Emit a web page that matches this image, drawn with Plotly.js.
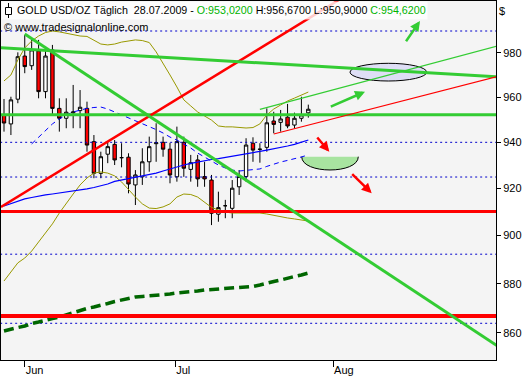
<!DOCTYPE html>
<html><head><meta charset="utf-8">
<script src="https://cdn.plot.ly/plotly-3.0.1.min.js"></script>
<style>html,body{margin:0;padding:0;background:#fff}#chart{width:527px;height:380px}</style>
</head><body><div id="chart"></div>
<script>
// ---- data ----
const dates = ['2009-05-27','2009-05-28','2009-05-29',
 '2009-06-01','2009-06-02','2009-06-03','2009-06-04','2009-06-05',
 '2009-06-08','2009-06-09','2009-06-10','2009-06-11','2009-06-12',
 '2009-06-15','2009-06-16','2009-06-17','2009-06-18','2009-06-19',
 '2009-06-22','2009-06-23','2009-06-24','2009-06-25','2009-06-26',
 '2009-06-29','2009-06-30',
 '2009-07-01','2009-07-02','2009-07-03',
 '2009-07-06','2009-07-07','2009-07-08','2009-07-09','2009-07-10',
 '2009-07-13','2009-07-14','2009-07-15','2009-07-16','2009-07-17',
 '2009-07-20','2009-07-21','2009-07-22','2009-07-23','2009-07-24',
 '2009-07-27','2009-07-28'];
const open  = [952.1,948.1,959.1,978.6,974.2,980.9,962.5,981.4,955.0,950.6,953.0,954.0,955.0,940.3,926.5,934.8,939.1,933.3,933.5,921.5,925.0,931.5,939.4,940.0,937.0,925.0,940.0,928.2,932.3,925.1,923.6,909.0,912.6,911.5,920.7,925.1,939.6,936.9,937.8,949.4,948.8,951.1,947.6,950.6,953.02];
const high  = [959.2,960.2,980.3,988.3,986.0,986.0,981.4,983.7,959.5,959.5,965.5,963.2,958.0,943.2,935.9,940.3,941.0,939.6,935.2,927.9,937.4,942.5,948.4,942.5,939.8,946.9,942.5,934.5,934.5,931.5,925.8,918.6,915.1,923.6,927.9,941.8,942.2,939.6,955.0,953.5,954.3,957.0,953.1,960.2,956.67];
const low   = [944.7,943.2,957.3,970.8,972.3,959.5,959.5,952.1,944.7,946.2,946.2,946.2,935.9,924.4,924.4,930.9,930.1,929.1,917.9,912.9,921.5,927.2,931.5,933.7,922.2,922.9,925.0,922.9,920.7,920.7,904.4,905.8,907.3,907.3,917.2,922.9,931.5,931.1,935.9,944.0,944.7,946.2,946.2,949.1,950.90];
const close = [948.5,958.8,978.3,973.8,981.4,962.5,978.6,955.0,950.6,953.3,953.4,955.5,938.8,926.5,933.7,938.1,932.3,933.3,921.9,925.8,931.5,938.1,939.8,937.0,925.8,940.3,928.7,931.1,924.1,924.1,909.4,911.8,912.6,920.1,925.1,938.8,936.6,937.0,948.6,947.9,950.3,947.2,950.6,952.1,954.62];

const bbUpper = [967.3,970.0,976.8,982.3,985.5,987.8,989.4,990.1,989.7,989.1,988.3,987.8,987.6,986.0,984.1,983.7,984.1,985.0,985.5,986.0,985.7,984.8,980.5,975.4,970.0,964.6,958.8,956.1,953.4,951.6,949.8,947.2,946.8,946.8,946.5,946.3,946.5,948.1,952.1,954.7,956.5,958.3,959.6,961.0,962.3];
const bbLower = [881.1,884.8,888.6,890.6,893.5,897.3,901.1,904.9,909.5,913.8,917.6,921.5,924.5,926.6,927.1,926.6,925.4,922.8,919.3,916.3,913.4,911.6,911.4,912.1,913.4,916.3,917.6,917.4,916.3,914.2,911.9,910.8,909.9,909.5,909.5,909.5,909.5,909.5,909.1,908.5,907.8,907.4,907.0,906.6,906.1];
const bbMiddle = [null,null,null,null,939.3,942.3,945.4,948.1,950.3,952.1,953.4,954.3,955.0,955.4,955.6,954.7,953.4,952.1,951.0,949.8,948.5,947.2,945.6,944.1,942.3,941.0,939.3,937.5,935.3,933.6,931.9,930.1,928.8,927.9,927.5,927.7,927.9,928.4,929.5,930.5,931.4,932.1,932.7,933.6,934.5];
const maBlue = [912.5,913.6,914.6,915.5,916.1,916.8,917.2,917.6,918.0,918.5,918.9,919.3,919.8,920.4,921.1,921.9,923.0,923.6,924.1,924.5,925.1,925.8,926.6,927.5,928.4,929.5,930.1,930.8,931.4,932.1,932.5,932.9,933.4,933.8,934.2,934.7,935.3,936.0,936.6,937.1,937.7,938.4,939.1,939.9,941.0];
const maGreen = [860.8,861.6,862.2,862.8,863.8,864.4,865.2,865.8,866.4,867.3,868.3,869.3,869.9,870.5,871.1,871.9,872.7,873.3,874.0,874.6,874.8,875.0,875.2,875.6,875.8,876.2,876.4,876.6,877.0,877.4,877.6,877.8,878.2,878.5,878.5,878.7,878.9,879.5,880.3,880.9,881.5,882.4,883.0,883.6,884.4];

// trend lines (end points)
const redRiseX = ['2009-05-26 13:35','2009-08-05'];  const redRiseY = [912.07, 1007.72];
const greenFallX = ['2009-06-01','2009-09-04'];      const greenFallY = [988.73, 853.61];
const greenTopX = ['2009-05-26 13:35','2009-09-04']; const greenTopY = [982.41, 969.07];
const redChanX = ['2009-07-21','2009-09-04'];        const redChanY = [943.66, 969.83];
const greenChanX = ['2009-07-17','2009-09-04'];      const greenChanY = [954.59, 983.71];

// horizontal levels
const greenLevels = [952.2];
const redLevels = [910.1];
const redBoldLevels = [866.8];
const dottedLevels = [990.1, 940.0, 924.9, 892.2, 863.9];

// axis ticks
const yTicks = [860, 880, 900, 920, 940, 960, 980];
const monthTicks = ['2009-06-01','2009-06-30 18:00','2009-07-31 14:00'];
const monthLabels = ['Jun','Jul','Aug'];
const xRange = ['2009-05-26 13:35','2009-09-03 03:20'];
const yRange = [849.23, 1004.06];
const fullX = ['2009-05-25','2009-09-07'];

const titleParts = {name:'GOLD USD/OZ Täglich', date:'28.07.2009', o:'O:953,0200', h:'H:956,6700', l:'L:950,9000', c:'C:954,6200'};

// ---- traces ----
const traces = [];
dottedLevels.forEach(v => traces.push({x: fullX, y:[v,v], mode:'lines', line:{color:'#0000cc', width:1, dash:'2px,3px'}, hoverinfo:'skip'}));
traces.push({x: dates, y: bbUpper, mode:'lines', line:{color:'#999900', width:1}});
traces.push({x: dates, y: bbLower, mode:'lines', line:{color:'#999900', width:1}});
traces.push({x: dates, y: bbMiddle, mode:'lines', line:{color:'#0000ff', width:1, dash:'5px,4px'}});
traces.push({x: dates, y: maBlue, mode:'lines', line:{color:'#0000ff', width:1.2}});
traces.push({x: dates, y: maGreen, mode:'lines', line:{color:'#006600', width:3.5, dash:'10px,5px'}});
traces.push({type:'candlestick', x: dates, open, high, low, close, whiskerwidth:0,
  increasing:{line:{color:'#000', width:1}, fillcolor:'#ffffff'},
  decreasing:{line:{color:'#000', width:1}, fillcolor:'#ff0000'}, hoverinfo:'skip'});
redLevels.forEach(v => traces.push({x: fullX, y:[v,v], mode:'lines', line:{color:'#ff0000', width:3}}));
redBoldLevels.forEach(v => traces.push({x: fullX, y:[v,v], mode:'lines', line:{color:'#ff0000', width:4}}));
greenLevels.forEach(v => traces.push({x: fullX, y:[v,v], mode:'lines', line:{color:'#33cc33', width:3}}));
traces.push({x: redRiseX, y: redRiseY, mode:'lines', line:{color:'#ff0000', width:2.5}});
traces.push({x: greenFallX, y: greenFallY, mode:'lines', line:{color:'#33cc33', width:3}});
traces.push({x: greenTopX, y: greenTopY, mode:'lines', line:{color:'#33cc33', width:3}});
traces.push({x: redChanX, y: redChanY, mode:'lines', line:{color:'#ff0000', width:1.2}});
traces.push({x: greenChanX, y: greenChanY, mode:'lines', line:{color:'#33cc33', width:1.2}});
traces.forEach(t => { t.showlegend = false; if(!t.type) t.type = 'scatter'; });

// ---- layout helpers (pixel -> paper) ----
const W = 527, H = 380, ML = 1, MR = 31, MT = 1, MB = 20;
const PW = W - ML - MR, PH = H - MT - MB;
const px = x => (x - ML) / PW;
const py = y => (H - MB - y) / PH;

const bowlTop = 156.7, bowlBot = 174.4, bowlL = 301.7, bowlR = 358.3;
const bowlCurve = `M ${px(bowlL)},${py(bowlTop)} C ${px(bowlL)},${py(bowlBot)} ${px(bowlR)},${py(bowlBot)} ${px(bowlR)},${py(bowlTop)}`;

const shapes = [
  {type:'circle', xref:'paper', yref:'paper', x0:px(350), x1:px(426.7), y0:py(81), y1:py(63.3), fillcolor:'#dedef5', line:{color:'#000', width:1}, layer:'below'},
  {type:'path', xref:'paper', yref:'paper', path: bowlCurve + ' Z', fillcolor:'#a8e4a0', line:{width:0}, layer:'below'},
  {type:'path', xref:'paper', yref:'paper', path: bowlCurve, fillcolor:'rgba(0,0,0,0)', line:{color:'#000', width:1}, layer:'below'},
  {type:'rect', xref:'paper', yref:'paper', x0:px(1.5), x1:px(427.5), y0:py(19.5), y1:py(1.5), fillcolor:'rgba(255,255,255,0.8)', line:{width:0}, layer:'above'},
  {type:'line', xref:'paper', yref:'paper', x0:px(8.5), x1:px(8.5), y0:py(3), y1:py(18), line:{color:'#000', width:1}, layer:'above'},
  {type:'rect', xref:'paper', yref:'paper', x0:px(5.5), x1:px(11.5), y0:py(14.5), y1:py(7.5), fillcolor:'#fff', line:{color:'#000', width:1}, layer:'above'}
];

function arrow(tipX, tipY, tailX, tailY, color){
  return {xref:'paper', yref:'paper', x:px(tipX), y:py(tipY), ax:tailX-tipX, ay:tailY-tipY, text:'',
    showarrow:true, arrowhead:2, arrowsize:0.8, arrowwidth:2.5, arrowcolor:color};
}
const G = '#00b400';
const titleText = `${titleParts.name}&nbsp; ${titleParts.date} - <span style="color:${G}">${titleParts.o}</span> ${titleParts.h} ${titleParts.l} <span style="color:${G}">${titleParts.c}</span>`;

const annotations = [
  {xref:'paper', yref:'paper', x:px(15), y:py(10), xanchor:'left', yanchor:'middle', text:titleText, showarrow:false, font:{size:10.7, color:'#000'}},
  {xref:'paper', yref:'paper', x:px(1.5), y:py(26.5), xanchor:'left', yanchor:'middle', text:'© www.tradesignalonline.com', showarrow:false, font:{size:11, color:'#000'}},
  {xref:'paper', yref:'paper', x:px(497), y:py(10.5), xanchor:'left', yanchor:'middle', text:'$', showarrow:false, font:{size:11, color:'#000'}},
  arrow(420, 21, 405, 42.7, '#33cc33'),
  arrow(365, 91.7, 329.3, 107.3, '#33cc33'),
  arrow(329.3, 151.7, 316, 136, '#ff0000'),
  arrow(371.7, 193.3, 350.7, 172.7, '#ff0000')
];

const layout = {
  width: W, height: H,
  margin: {l: ML, r: MR, t: MT, b: MB, pad: 0},
  paper_bgcolor: '#ffffff', plot_bgcolor: '#f4f4f4',
  font: {family: '"Liberation Sans", Arial, sans-serif', size: 11, color: '#000'},
  showlegend: false,
  xaxis: {type:'date', range: xRange, rangebreaks:[{bounds:['sat','mon']}], rangeslider:{visible:false},
    showgrid:false, zeroline:false, showline:true, mirror:true, linecolor:'#000', linewidth:1,
    ticks:'outside', ticklen:6, tickwidth:1, tickcolor:'#000',
    tickvals: monthTicks, ticktext: monthLabels, ticklabelposition:'outside right', fixedrange:true},
  yaxis: {type:'log', side:'right', range: yRange.map(v => Math.log10(v)),
    showgrid:false, zeroline:false, showline:true, mirror:true, linecolor:'#000', linewidth:1,
    ticks:'outside', ticklen:4, tickwidth:1, tickcolor:'#000',
    tickvals: yTicks, ticktext: yTicks.map(String), fixedrange:true},
  shapes, annotations
};

Plotly.newPlot('chart', traces, layout, {staticPlot:true, displayModeBar:false});
</script>
</body></html>
